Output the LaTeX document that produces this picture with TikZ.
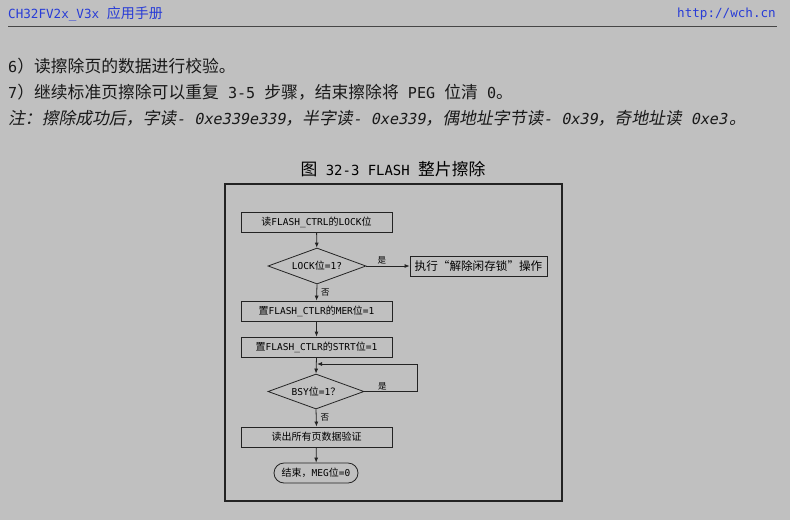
\documentclass[tikz,border=0pt]{standalone}
\usepackage{fontspec}
\setmainfont{Noto Sans CJK SC}
\newfontfamily\lat[Scale=0.83]{DejaVu Sans Mono}
\newfontfamily\latb[Scale=0.9]{DejaVu Sans Mono}
\newfontfamily\flowlat[Scale=0.95]{DejaVu Sans Mono}
\newfontfamily\slt[FakeSlant=0.2]{Noto Sans CJK SC}
\newfontfamily\latslt[Scale=0.9,FakeSlant=0.2]{DejaVu Sans Mono}
\usetikzlibrary{shapes.geometric,arrows.meta,calc}
\definecolor{pagegray}{RGB}{192,192,192}
\definecolor{hdrblue}{RGB}{40,60,215}
\definecolor{ink}{RGB}{35,35,35}
\definecolor{rulegray}{RGB}{70,70,70}

\begin{document}
\begin{tikzpicture}[x=1pt, y=-1pt,
  body/.style={anchor=west, inner sep=0pt, text=black!90, font=\fontsize{16.8}{20}\selectfont},
  box/.style={rectangle, draw=ink, line width=0.8pt, minimum width=151pt, minimum height=20pt, inner sep=0pt, font=\fontsize{10}{12}\selectfont},
  decision/.style={diamond, aspect=2.7, draw=ink, line width=0.8pt, minimum width=98pt, minimum height=36pt, inner sep=0pt, font=\fontsize{10}{12}\selectfont},
  term/.style={rectangle, rounded corners=10pt, draw=ink, line width=0.8pt, minimum width=84pt, minimum height=20pt, inner sep=0pt, font=\fontsize{10}{12}\selectfont},
  lbl/.style={inner sep=1pt, font=\fontsize{8.5}{9}\selectfont},
  arr/.style={draw=ink, line width=0.8pt, -{Latex[length=5pt,width=4pt]}}]

\fill[pagegray] (0,0) rectangle (790,520);

% header
\node[anchor=west, inner sep=0pt, text=hdrblue, font=\fontsize{14}{16}\selectfont] (hdrl) at (8,14) {{\latb CH32FV2x\_V3x\ }应用手册};
\node[anchor=east, inner sep=0pt, text=hdrblue, font=\fontsize{14}{16}\selectfont] (hdrr) at (776,14) {\latb http://wch.cn};
\draw[rulegray, line width=1.5pt] (8,26.5) -- (777,26.5);

% text lines
\node[body] (s6) at (8,66) {{\latb 6}）读擦除页的数据进行校验。};
\node[body] (s7) at (8,92) {{\latb 7}）继续标准页擦除可以重复{\latb\ 3-5\ }步骤，结束擦除将{\latb\ PEG\ }位清{\latb\ 0}。};
\node[body] (note) at (8,118) {\slt 注：擦除成功后，字读{\latslt -\ 0xe339e339}，半字读{\latslt -\ 0xe339}，偶地址字节读{\latslt -\ 0x39}，奇地址读{\latslt\ 0xe3}\kern2pt。};

% figure
\node[font=\fontsize{16.8}{20}\selectfont, inner sep=0pt] (ttl) at (393,169) {图{\lat\ 32-3 FLASH\ }整片擦除};
\draw[ink, line width=1.5pt] (225,184) rectangle (562,501);

\node[box] (rd) at (316.5,222) {读{\flowlat FLASH\_CTRL}的{\flowlat LOCK}位};
\node[decision] (lock) at (317,266) {{\flowlat LOCK}位{\flowlat =1?}};
\node[box, minimum width=137pt, font=\fontsize{11.6}{14}\selectfont] (unlk) at (478.5,266) {执行“解除闲存锁”操作};
\node[box] (mer) at (316.5,311) {置{\flowlat FLASH\_CTLR}的{\flowlat MER}位{\flowlat =1}};
\node[box] (strt) at (316.5,347) {置{\flowlat FLASH\_CTLR}的{\flowlat STRT}位{\flowlat =1}};
\node[decision, minimum width=96pt, minimum height=35pt] (bsy) at (316,391.5) {{\flowlat BSY}位{\flowlat =1}？};
\node[box] (vrf) at (316.5,437) {读出所有页数据验证};
\node[term] (fin) at (316,473) {结束，{\flowlat MEG}位{\flowlat =0}};

\coordinate (loopc) at (417,364);
\coordinate (join) at (317,364);

\draw[arr] (rd) -- (lock);
\draw[arr] (lock.east) -- node[lbl, above, pos=0.36] {是} (unlk.west);
\draw[arr] (lock.south) -- node[lbl, right, xshift=3pt] {否} (mer.north);
\draw[arr] (mer) -- (strt);
\draw[arr] (strt.south) -- (bsy.north);
\draw[arr] (bsy.east) -- node[lbl, above, pos=0.34] {是} (bsy.east -| loopc) -- (loopc) -- (join);
\draw[arr] (bsy.south) -- node[lbl, right, xshift=3pt] {否} (vrf.north);
\draw[arr] (vrf) -- (fin);

\end{tikzpicture}
\end{document}
